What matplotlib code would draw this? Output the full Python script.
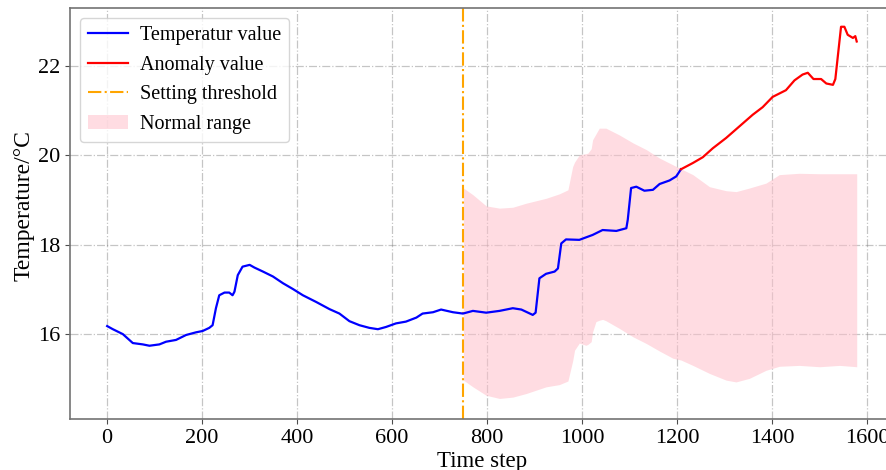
import matplotlib
matplotlib.use("Agg")
matplotlib.rcParams.update({
    "font.family": "Liberation Serif", "font.size": 14,
})
import matplotlib.pyplot as plt

# temperature trace, split into normal / anomaly parts
T_STEP = [0, 12, 33, 54, 75, 89, 110, 124, 145, 166, 187, 201, 215, 222, 229, 236,
          247, 257, 264, 268, 275, 285, 300, 310, 328, 349, 370, 391, 412, 440, 468,
          489, 510, 531, 552, 570, 587, 608, 629, 651, 664, 686, 703, 728, 749, 770,
          798, 826, 854, 872, 882, 896, 902, 910, 924, 942, 949, 956, 966, 994, 1022,
          1043, 1072, 1093, 1096, 1103, 1114, 1131, 1149, 1163, 1184, 1198, 1208]
T_VAL = [16.18, 16.11, 16.00, 15.80, 15.77, 15.74, 15.77, 15.83, 15.87, 15.98, 16.04,
         16.07, 16.14, 16.20, 16.58, 16.87, 16.93, 16.93, 16.87, 16.95, 17.32, 17.51,
         17.55, 17.49, 17.40, 17.29, 17.14, 17.01, 16.87, 16.72, 16.56, 16.46, 16.29,
         16.20, 16.14, 16.11, 16.16, 16.24, 16.28, 16.37, 16.46, 16.49, 16.55, 16.49,
         16.46, 16.52, 16.48, 16.52, 16.58, 16.55, 16.50, 16.43, 16.48, 17.25, 17.35,
         17.40, 17.47, 18.03, 18.12, 18.11, 18.22, 18.33, 18.31, 18.37, 18.56, 19.27,
         19.30, 19.21, 19.23, 19.36, 19.44, 19.53, 19.69]

A_STEP = [1208, 1233, 1254, 1275, 1303, 1331, 1359, 1380, 1401, 1429, 1447, 1464,
          1475, 1487, 1503, 1514, 1528, 1533, 1545, 1552, 1559, 1570, 1575, 1578]
A_VAL = [19.69, 19.83, 19.96, 20.16, 20.39, 20.65, 20.91, 21.08, 21.31, 21.46, 21.68,
         21.81, 21.85, 21.71, 21.71, 21.61, 21.58, 21.71, 22.88, 22.88, 22.70, 22.63,
         22.67, 22.55]

# normal range band, starts at the threshold step
B_STEP = [750, 770, 798, 826, 854, 882, 924, 952, 970, 980, 984, 994, 1008, 1012, 1019,
          1022, 1029, 1036, 1043, 1050, 1078, 1107, 1135, 1163, 1191, 1208, 1233, 1268,
          1303, 1324, 1352, 1387, 1415, 1457, 1500, 1542, 1578]
B_UP = [19.27, 19.12, 18.87, 18.82, 18.84, 18.93, 19.04, 19.14, 19.23, 19.75, 19.85,
        20.01, 20.04, 20.05, 20.15, 20.35, 20.48, 20.61, 20.61, 20.61, 20.46, 20.28,
        20.13, 19.94, 19.79, 19.70, 19.57, 19.30, 19.21, 19.19, 19.27, 19.38, 19.57,
        19.60, 19.59, 19.59, 19.59]
B_LO = [14.97, 14.82, 14.63, 14.56, 14.59, 14.67, 14.82, 14.87, 14.95, 15.40, 15.64,
        15.80, 15.75, 15.77, 15.83, 16.05, 16.28, 16.31, 16.33, 16.30, 16.13, 15.94,
        15.79, 15.62, 15.46, 15.42, 15.30, 15.12, 14.97, 14.93, 15.01, 15.19, 15.28,
        15.30, 15.27, 15.30, 15.27]

THRESHOLD = 750

fig = plt.figure(figsize=(8.87, 4.70), dpi=100)
ax = fig.add_axes([0.0785, 0.1085, 0.9302, 0.8745])

ax.fill_between(B_STEP, B_LO, B_UP, color="pink", alpha=0.55, lw=0,
                label="Normal range", zorder=1)
ax.plot(T_STEP, T_VAL, color="blue", lw=1.6, label="Temperatur value", zorder=3)
ax.plot(A_STEP, A_VAL, color="red", lw=1.6, label="Anomaly value", zorder=3)
ax.axvline(THRESHOLD, color="orange", ls="-.", lw=1.5, label="Setting threshold", zorder=2)

ax.set_xlim(-79, 1658)
ax.set_ylim(14.1, 23.3)
ax.set_xticks(range(0, 1601, 200))
ax.set_yticks([16, 18, 20, 22])
ax.grid(True, ls="-.", color="gray", alpha=0.45, lw=0.9)
ax.set_axisbelow(True)
for s in ax.spines.values():
    s.set_color("0.45")
    s.set_linewidth(1.2)
ax.tick_params(colors="0.3", labelcolor="black", labelsize=16)
ax.set_xlabel("Time step", fontsize=16.5, labelpad=2)
ax.set_ylabel("Temperature/°C", fontsize=17)
ax.yaxis.set_label_coords(-0.043, 0.52)

h, l = ax.get_legend_handles_labels()
order = [1, 2, 3, 0]
ax.legend([h[i] for i in order], [l[i] for i in order], loc="upper left",
          fontsize=14.5, handlelength=2.0, handletextpad=0.6, borderpad=0.4,
          labelspacing=0.52)

fig.savefig("out.png", dpi=100)
